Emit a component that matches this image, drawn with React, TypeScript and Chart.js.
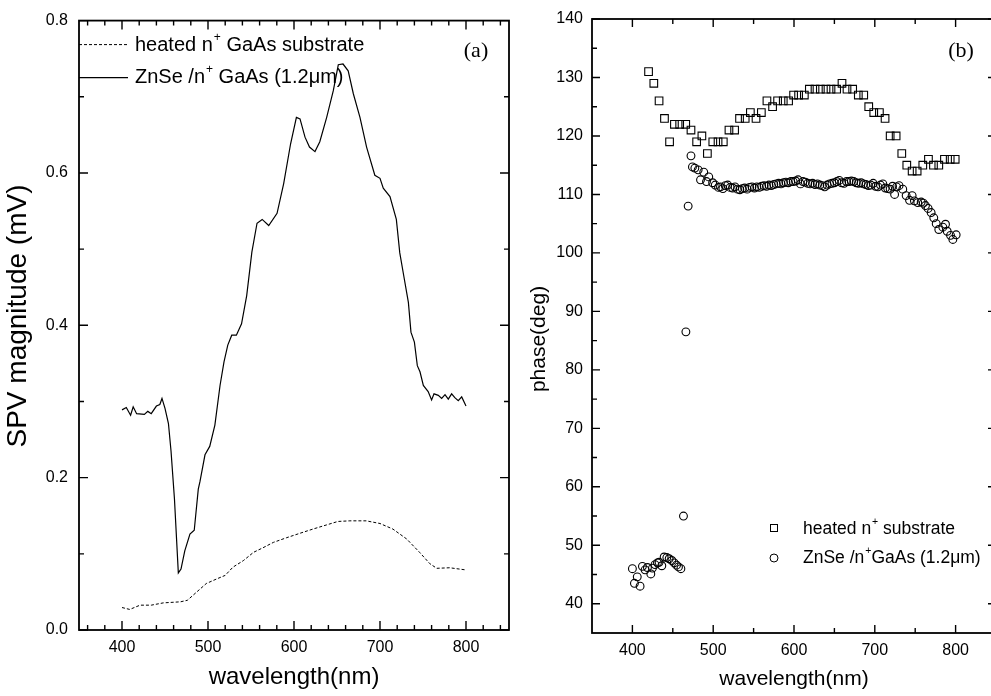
import React, { useEffect, useRef } from 'react';
import { Chart, registerables } from 'chart.js';

Chart.register(...registerables);

const FONT = '"Liberation Sans", Arial, Helvetica, sans-serif';
const SERIF = '"Liberation Serif", "Times New Roman", serif';

// ---------- Panel (a): SPV magnitude ----------
const heatedWl = [400, 409, 421, 434, 448, 468, 476, 487, 498, 510, 520, 529, 541, 553, 564, 576, 591, 607, 622, 638, 651, 665, 684, 700, 715, 731, 746, 758, 766, 781, 799];
const heatedSpv = [0.0295, 0.027, 0.0326, 0.0326, 0.0356, 0.037, 0.039, 0.05, 0.061, 0.067, 0.0717, 0.0825, 0.091, 0.102, 0.108, 0.115, 0.121, 0.127, 0.1325, 0.138, 0.1425, 0.1433, 0.1433, 0.1398, 0.1325, 0.1195, 0.102, 0.087, 0.081, 0.0817, 0.079];

const znseWl = [400, 405, 410, 413, 417, 426, 430, 434, 440, 444, 446.5, 450, 454, 457, 461, 465.5, 468.6, 473, 479, 484, 488.7, 490.7, 496.5, 502, 508, 514, 518.6, 523, 527.6, 533, 539, 545, 551, 557, 563, 570.6, 580.3, 588, 596, 602.8, 607, 612.8, 618, 624.4, 630, 638, 645.7, 651.5, 657, 663, 669, 676.7, 684.4, 694, 700, 703.8, 711.6, 719, 723, 727, 733, 736, 740, 743.4, 746.5, 750.4, 756, 760, 762.8, 767.8, 771.7, 775.6, 779.4, 783.3, 787, 791, 795, 800];
const znseSpv = [0.289, 0.292, 0.282, 0.293, 0.284, 0.283, 0.287, 0.284, 0.294, 0.296, 0.304, 0.291, 0.271, 0.235, 0.172, 0.075, 0.08, 0.104, 0.126, 0.131, 0.185, 0.195, 0.23, 0.241, 0.269, 0.321, 0.352, 0.374, 0.387, 0.387, 0.402, 0.439, 0.496, 0.534, 0.539, 0.531, 0.547, 0.586, 0.638, 0.673, 0.671, 0.647, 0.634, 0.628, 0.641, 0.673, 0.708, 0.742, 0.743, 0.734, 0.704, 0.673, 0.634, 0.597, 0.593, 0.58, 0.569, 0.539, 0.495, 0.469, 0.43, 0.391, 0.378, 0.347, 0.339, 0.321, 0.313, 0.302, 0.31, 0.308, 0.304, 0.309, 0.303, 0.31, 0.305, 0.301, 0.306, 0.294];

const aXMajor = [400, 500, 600, 700, 800];
const aXMinor = [360, 380, 420, 440, 460, 480, 520, 540, 560, 580, 620, 640, 660, 680, 720, 740, 760, 780, 820, 840];
const aYMajor = [0.0, 0.2, 0.4, 0.6, 0.8];
const aYMinor = [0.1, 0.3, 0.5, 0.7];

// ---------- Panel (b): phase ----------
const sqWl = [420, 426.5, 433, 439.7, 446, 452, 458.5, 466, 472.5, 479.5, 486, 492.8, 499.5, 506, 512.5, 519.5, 526.5, 532.6, 539.6, 546, 553, 559.6, 566.5, 573.5, 579.7, 586.7, 593.3, 599.5, 605.7, 612.8, 619, 626, 632.6, 639.6, 645.8, 652.8, 659.4, 665.6, 672.6, 679.6, 686.3, 692.5, 698.7, 705.7, 712.7, 719, 726.4, 733.4, 739.6, 746.2, 752.4, 759.4, 766.4, 772.6, 779.2, 786.2, 793.3, 799.5];
const sqPhase = [131, 129, 126, 123, 119, 122, 122, 122, 121, 119, 120, 117, 119, 119, 119, 121, 121, 123, 123, 124, 123, 124, 126, 125, 126, 126, 126, 127, 127, 127, 128, 128, 128, 128, 128, 128, 129, 128, 128, 127, 127, 125, 124, 124, 123, 120, 120, 117, 115, 114, 114, 115, 116, 115, 115, 116, 116, 116];

const circWl = [400, 402.5, 406, 409.5, 412.4, 415.7, 418.6, 422.8, 424.8, 428, 431, 433, 436.4, 439.3, 442.6, 445.5, 448.8, 451.7, 454.6, 457, 460, 463.2, 466.2, 469, 472.5, 474.3, 477.3, 481.4, 484.3, 488.3, 491.7, 494.5, 499.3, 502.5, 506.6,
  509, 512, 515, 518, 521, 524, 527, 530, 533, 536, 539, 542, 545, 548, 551, 554, 557, 560, 563, 566, 569, 572, 575, 578, 581, 584, 587, 590, 593, 596, 599, 602, 605, 608, 611, 614, 617, 620, 623, 626, 629, 632, 635, 638, 641, 644, 647, 650, 653, 656, 659, 662, 665, 668, 671, 674, 677, 680, 683, 686, 689, 692, 695, 698, 701, 704, 707, 710, 713, 716, 719, 722, 724.5, 727, 730,
  734.6, 738.8, 743, 746.2, 749, 753.2, 757.4, 760, 762.7, 766, 769.7, 773, 776, 779.2, 784.2, 787.5, 789.6, 793.7, 796.6, 800.7];
const circPhase = [46.0, 43.5, 44.6, 43.0, 46.4, 45.8, 46.2, 45.1, 46.1, 46.7, 47.0, 47.1, 46.5, 48.0, 47.9, 47.7, 47.4, 47.0, 46.6, 46.3, 46.0, 55.0, 86.5, 108.0, 116.6, 114.7, 114.5, 114.2, 112.5, 113.8, 112.2, 113.0, 112.0, 111.6, 111.2,
  111.3, 111.0, 111.5, 111.6, 111.2, 111.1, 111.3, 110.9, 110.8, 111.0, 111.1, 110.9, 111.2, 111.3, 111.1, 111.3, 111.2, 111.4, 111.5, 111.4, 111.6, 111.5, 111.7, 111.8, 111.9, 111.8, 112.0, 112.1, 112.0, 112.2, 112.2, 112.3, 112.5, 111.8, 112.2, 112.1, 111.9, 111.8, 111.9, 111.7, 111.8, 111.6, 111.5, 111.3, 111.6, 111.8, 111.9, 112.0, 112.2, 112.4, 112.0, 111.9, 112.2, 112.2, 112.3, 112.2, 112.0, 111.9, 112.0, 111.8, 111.7, 111.5, 111.6, 111.9, 111.4, 111.3, 111.6, 111.8, 111.1, 111.0, 110.9, 111.4, 110.0, 111.3, 111.5,
  110.9, 109.8, 109.0, 109.8, 108.9, 108.6, 108.7, 108.5, 108.1, 107.6, 106.9, 106.0, 105.0, 104.0, 104.4, 104.9, 103.7, 103.0, 102.3, 103.1];

const bXMajor = [400, 500, 600, 700, 800];
const bXMinor = [450, 550, 650, 750];
const bYMajor = [40, 50, 60, 70, 80, 90, 100, 110, 120, 130, 140];
const bYMinor = [45, 55, 65, 75, 85, 95, 105, 115, 125, 135];

type Part = { t: string; sup?: boolean };

function drawRich(ctx: CanvasRenderingContext2D, parts: Part[], x: number, y: number, size: number) {
  let cx = x;
  ctx.textAlign = 'left';
  ctx.textBaseline = 'middle';
  for (const p of parts) {
    if (p.sup) {
      ctx.font = `${size * 0.6}px ${FONT}`;
      ctx.fillText(p.t, cx + 1, y - size * 0.42);
      cx += ctx.measureText(p.t).width + 1;
    } else {
      ctx.font = `${size}px ${FONT}`;
      ctx.fillText(p.t, cx, y);
      cx += ctx.measureText(p.t).width;
    }
  }
}

function framePlugin(cfg: { xMajor: number[]; xMinor: number[]; yMajor: number[]; yMinor: number[]; major: number; minor: number; lw: number }) {
  return {
    id: 'frame',
    afterDraw(chart: any) {
      const { ctx, chartArea } = chart;
      const { left, right, top, bottom } = chartArea;
      const xs = chart.scales.x;
      const ys = chart.scales.y;
      ctx.save();
      ctx.strokeStyle = '#000';
      ctx.setLineDash([]);
      ctx.lineWidth = 1.4;
      ctx.beginPath();
      const xt = (vals: number[], len: number) => {
        for (const v of vals) {
          const px = xs.getPixelForValue(v);
          ctx.moveTo(px, bottom);
          ctx.lineTo(px, bottom - len);
          ctx.moveTo(px, top);
          ctx.lineTo(px, top + len);
        }
      };
      const yt = (vals: number[], len: number) => {
        for (const v of vals) {
          const py = ys.getPixelForValue(v);
          ctx.moveTo(left, py);
          ctx.lineTo(left + len, py);
          ctx.moveTo(right, py);
          ctx.lineTo(right - len, py);
        }
      };
      xt(cfg.xMajor, cfg.major);
      xt(cfg.xMinor, cfg.minor);
      yt(cfg.yMajor, cfg.major);
      yt(cfg.yMinor, cfg.minor);
      ctx.stroke();
      ctx.lineWidth = cfg.lw;
      ctx.strokeRect(left, top, right - left, bottom - top);
      ctx.restore();
    },
  };
}

const textA = {
  id: 'textA',
  afterDraw(chart: any) {
    const { ctx, chartArea } = chart;
    const { left, right, top } = chartArea;
    ctx.save();
    ctx.fillStyle = '#000';
    ctx.strokeStyle = '#000';
    // legend
    ctx.lineWidth = 1;
    ctx.setLineDash([3, 2]);
    ctx.beginPath();
    ctx.moveTo(left, top + 24);
    ctx.lineTo(left + 49, top + 24);
    ctx.stroke();
    ctx.setLineDash([]);
    ctx.lineWidth = 1.2;
    ctx.beginPath();
    ctx.moveTo(left, top + 57);
    ctx.lineTo(left + 49, top + 57);
    ctx.stroke();
    drawRich(ctx, [{ t: 'heated n' }, { t: '+', sup: true }, { t: ' GaAs substrate' }], left + 56, top + 25, 20);
    drawRich(ctx, [{ t: 'ZnSe /n' }, { t: '+', sup: true }, { t: ' GaAs (1.2μm)' }], left + 56, top + 57, 20);
    // panel tag
    ctx.font = `22px ${SERIF}`;
    ctx.textAlign = 'center';
    ctx.textBaseline = 'middle';
    ctx.fillText('(a)', 476, 51);
    // axis titles
    ctx.font = `24px ${FONT}`;
    ctx.fillText('wavelength(nm)', (left + right) / 2, 677);
    ctx.save();
    ctx.translate(18, 316);
    ctx.rotate(-Math.PI / 2);
    ctx.font = `28px ${FONT}`;
    ctx.fillText('SPV magnitude (mV)', 0, 0);
    ctx.restore();
    ctx.restore();
  },
};

const textB = {
  id: 'textB',
  afterDraw(chart: any) {
    const { ctx, chartArea } = chart;
    const { left, right } = chartArea;
    ctx.save();
    ctx.fillStyle = '#000';
    ctx.strokeStyle = '#000';
    ctx.lineWidth = 1;
    // legend symbols
    ctx.strokeRect(254 - 3.5, 528 - 3.5, 7, 7);
    ctx.beginPath();
    ctx.arc(254, 558, 4, 0, Math.PI * 2);
    ctx.stroke();
    drawRich(ctx, [{ t: 'heated n' }, { t: '+', sup: true }, { t: ' substrate' }], 283, 529, 17.5);
    drawRich(ctx, [{ t: 'ZnSe /n' }, { t: '+', sup: true }, { t: 'GaAs (1.2μm)' }], 283, 558, 17.5);
    ctx.font = `22px ${SERIF}`;
    ctx.textAlign = 'center';
    ctx.textBaseline = 'middle';
    ctx.fillText('(b)', 441, 51);
    ctx.font = `21px ${FONT}`;
    ctx.fillText('wavelength(nm)', (left + right) / 2, 679);
    ctx.save();
    ctx.translate(19, 339);
    ctx.rotate(-Math.PI / 2);
    ctx.fillText('phase(deg)', 0, 0);
    ctx.restore();
    ctx.restore();
  },
};

function baseScale(min: number, max: number, labels: number[], pad: number, fit: (s: any) => void, cb?: (v: any) => string) {
  return {
    type: 'linear' as const,
    min,
    max,
    border: { display: false },
    grid: { display: false, drawTicks: false },
    ticks: {
      autoSkip: false,
      padding: pad,
      color: '#000',
      font: { family: FONT, size: 16 },
      ...(cb ? { callback: cb } : {}),
    },
    afterBuildTicks: (s: any) => {
      s.ticks = labels.map((v) => ({ value: v }));
    },
    afterFit: fit,
  };
}

function configA(): any {
  return {
    type: 'scatter',
    data: {
      datasets: [
        {
          data: heatedWl.map((x, i) => ({ x, y: heatedSpv[i] })),
          showLine: true,
          borderColor: '#000',
          borderWidth: 1,
          borderDash: [3, 2],
          pointRadius: 0,
          tension: 0,
        },
        {
          data: znseWl.map((x, i) => ({ x, y: znseSpv[i] })),
          showLine: true,
          borderColor: '#000',
          borderWidth: 1.2,
          pointRadius: 0,
          tension: 0,
        },
      ],
    },
    options: {
      responsive: false,
      animation: false,
      devicePixelRatio: 1,
      events: [],
      layout: { padding: { top: 16, right: 11, left: 0, bottom: 0 } },
      plugins: { legend: { display: false }, tooltip: { enabled: false } },
      scales: {
        x: baseScale(350, 850, aXMajor, 8, (s) => { s.height = 66; }, (v) => String(v)),
        y: baseScale(0, 0.8, aYMajor, 11, (s) => { s.width = 79; }, (v) => Number(v).toFixed(1)),
      },
    },
    plugins: [framePlugin({ xMajor: aXMajor, xMinor: aXMinor, yMajor: aYMajor, yMinor: aYMinor, major: 9, minor: 5, lw: 1.8 }), textA],
  };
}

function configB(): any {
  return {
    type: 'scatter',
    data: {
      datasets: [
        {
          data: sqWl.map((x, i) => ({ x, y: sqPhase[i] })),
          pointStyle: 'rect',
          pointRadius: 5.4,
          borderColor: '#000',
          backgroundColor: 'rgba(0,0,0,0)',
          borderWidth: 1.1,
        },
        {
          data: circWl.map((x, i) => ({ x, y: circPhase[i] })),
          pointStyle: 'circle',
          pointRadius: 3.9,
          borderColor: '#000',
          backgroundColor: 'rgba(0,0,0,0)',
          borderWidth: 1.1,
        },
      ],
    },
    options: {
      responsive: false,
      animation: false,
      devicePixelRatio: 1,
      events: [],
      layout: { padding: { top: 19, right: 14, left: 0, bottom: 0 } },
      plugins: { legend: { display: false }, tooltip: { enabled: false } },
      scales: {
        x: baseScale(350, 850, bXMajor, 8, (s) => { s.height = 63; }, (v) => String(v)),
        y: baseScale(35, 140, bYMajor, 9, (s) => { s.width = 72; }, (v) => String(v)),
      },
    },
    plugins: [framePlugin({ xMajor: bXMajor, xMinor: bXMinor, yMajor: bYMajor, yMinor: bYMinor, major: 8, minor: 5, lw: 1.8 }), textB],
  };
}

function ChartCanvas({ make, width, height, left }: { make: () => any; width: number; height: number; left: number }) {
  const ref = useRef<HTMLCanvasElement>(null);
  useEffect(() => {
    const chart = new Chart(ref.current as HTMLCanvasElement, make());
    return () => chart.destroy();
  }, []);
  return (
    <canvas
      ref={ref}
      width={width}
      height={height}
      style={{ position: 'absolute', left, top: 0, width, height }}
    />
  );
}

export default function App() {
  return (
    <div style={{ position: 'fixed', left: 0, top: 0, width: 991, height: 696, overflow: 'hidden', background: '#fff' }}>
      <ChartCanvas make={configA} width={520} height={696} left={0} />
      <ChartCanvas make={configB} width={490} height={696} left={520} />
    </div>
  );
}
